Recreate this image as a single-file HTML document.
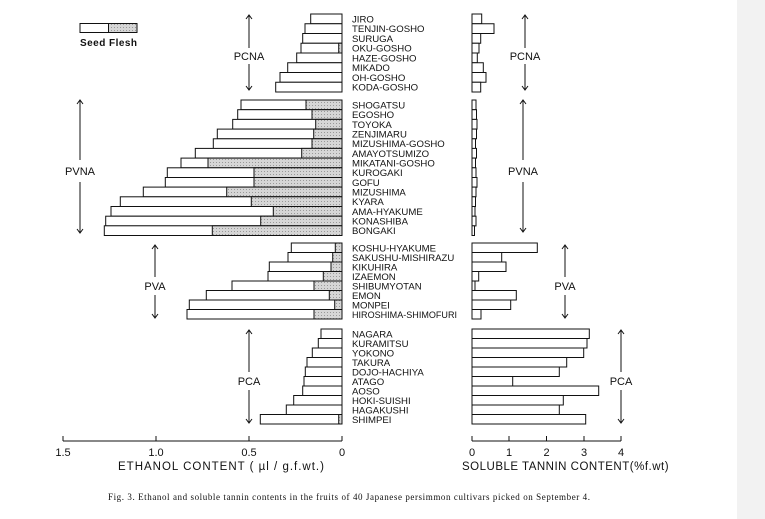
<!DOCTYPE html>
<html><head><meta charset="utf-8"><style>
html,body{margin:0;padding:0;background:#fff}
svg{display:block}
text{font-family:"Liberation Sans",sans-serif;fill:#111}
.l{font-size:9.6px}
.g{font-size:11px}
</style></head><body>
<svg width="765" height="519" viewBox="0 0 765 519" xmlns="http://www.w3.org/2000/svg">
<defs><pattern id="h" width="3" height="3" patternUnits="userSpaceOnUse"><rect width="3" height="3" fill="#d6d6d6"/><rect width="1" height="1" fill="#999"/></pattern></defs>
<rect x="737" y="0" width="28" height="519" fill="#f2f2f2"/>
<g stroke="#111" stroke-width="1" fill="#fff">
<rect x="80" y="23.5" width="57" height="9"/>
<rect x="108.5" y="23.5" width="28.5" height="9" fill="url(#h)"/>
<rect x="310.7" y="14" width="31.3" height="9.75"/>
<rect x="305" y="23.75" width="37" height="9.75"/>
<rect x="302.7" y="33.5" width="39.3" height="9.75"/>
<rect x="301" y="43.25" width="41" height="9.75"/><rect x="338.7" y="43.25" width="3.3" height="9.75" fill="url(#h)"/>
<rect x="296.7" y="53" width="45.3" height="9.75"/>
<rect x="287.7" y="62.75" width="54.3" height="9.75"/>
<rect x="280" y="72.5" width="62" height="9.75"/>
<rect x="275.7" y="82.25" width="66.3" height="9.75"/>
<rect x="241" y="100" width="101" height="9.7"/><rect x="306" y="100" width="36" height="9.7" fill="url(#h)"/>
<rect x="237.7" y="109.7" width="104.3" height="9.7"/><rect x="312" y="109.7" width="30" height="9.7" fill="url(#h)"/>
<rect x="232.7" y="119.4" width="109.3" height="9.7"/><rect x="315.7" y="119.4" width="26.3" height="9.7" fill="url(#h)"/>
<rect x="217.3" y="129.1" width="124.7" height="9.7"/><rect x="313.7" y="129.1" width="28.3" height="9.7" fill="url(#h)"/>
<rect x="213.3" y="138.8" width="128.7" height="9.7"/><rect x="312" y="138.8" width="30" height="9.7" fill="url(#h)"/>
<rect x="195.3" y="148.4" width="146.7" height="9.7"/><rect x="301.7" y="148.4" width="40.3" height="9.7" fill="url(#h)"/>
<rect x="181" y="158.1" width="161" height="9.7"/><rect x="208" y="158.1" width="134" height="9.7" fill="url(#h)"/>
<rect x="167.3" y="167.8" width="174.7" height="9.7"/><rect x="254" y="167.8" width="88" height="9.7" fill="url(#h)"/>
<rect x="165.3" y="177.5" width="176.7" height="9.7"/><rect x="254" y="177.5" width="88" height="9.7" fill="url(#h)"/>
<rect x="143.3" y="187.1" width="198.7" height="9.7"/><rect x="226.7" y="187.1" width="115.3" height="9.7" fill="url(#h)"/>
<rect x="120.3" y="196.8" width="221.7" height="9.7"/><rect x="251.3" y="196.8" width="90.7" height="9.7" fill="url(#h)"/>
<rect x="111" y="206.5" width="231" height="9.7"/><rect x="273.3" y="206.5" width="68.7" height="9.7" fill="url(#h)"/>
<rect x="105.7" y="216.2" width="236.3" height="9.7"/><rect x="260.7" y="216.2" width="81.3" height="9.7" fill="url(#h)"/>
<rect x="104.3" y="225.8" width="237.7" height="9.7"/><rect x="212.3" y="225.8" width="129.7" height="9.7" fill="url(#h)"/>
<rect x="291.3" y="243" width="50.7" height="9.5"/><rect x="335.3" y="243" width="6.7" height="9.5" fill="url(#h)"/>
<rect x="288" y="252.5" width="54" height="9.5"/><rect x="332.7" y="252.5" width="9.3" height="9.5" fill="url(#h)"/>
<rect x="269.3" y="262" width="72.7" height="9.5"/><rect x="331" y="262" width="11" height="9.5" fill="url(#h)"/>
<rect x="268" y="271.5" width="74" height="9.5"/><rect x="323.3" y="271.5" width="18.7" height="9.5" fill="url(#h)"/>
<rect x="232" y="281" width="110" height="9.5"/><rect x="314" y="281" width="28" height="9.5" fill="url(#h)"/>
<rect x="206.3" y="290.5" width="135.7" height="9.5"/><rect x="329.3" y="290.5" width="12.7" height="9.5" fill="url(#h)"/>
<rect x="189.3" y="300" width="152.7" height="9.5"/><rect x="334.7" y="300" width="7.3" height="9.5" fill="url(#h)"/>
<rect x="187" y="309.5" width="155" height="9.5"/><rect x="314" y="309.5" width="28" height="9.5" fill="url(#h)"/>
<rect x="321" y="329" width="21" height="9.5"/>
<rect x="318.3" y="338.5" width="23.7" height="9.5"/>
<rect x="312.3" y="348" width="29.7" height="9.5"/>
<rect x="307" y="357.5" width="35" height="9.5"/>
<rect x="305.3" y="367" width="36.7" height="9.5"/>
<rect x="304" y="376.5" width="38" height="9.5"/>
<rect x="302.7" y="386" width="39.3" height="9.5"/>
<rect x="293.7" y="395.5" width="48.3" height="9.5"/>
<rect x="286.3" y="405" width="55.7" height="9.5"/>
<rect x="260.3" y="414.5" width="81.7" height="9.5"/><rect x="338.7" y="414.5" width="3.3" height="9.5" fill="url(#h)"/>
<rect x="472" y="14" width="9.7" height="9.75"/>
<rect x="472" y="23.75" width="22" height="9.75"/>
<rect x="472" y="33.5" width="8.7" height="9.75"/>
<rect x="472" y="43.25" width="7" height="9.75"/>
<rect x="472" y="53" width="5.3" height="9.75"/>
<rect x="472" y="62.75" width="11.3" height="9.75"/>
<rect x="472" y="72.5" width="14" height="9.75"/>
<rect x="472" y="82.25" width="8.7" height="9.75"/>
<rect x="472" y="100" width="4" height="9.7"/>
<rect x="472" y="109.7" width="4.5" height="9.7"/>
<rect x="472" y="119.4" width="5" height="9.7"/>
<rect x="472" y="129.1" width="4.5" height="9.7"/>
<rect x="472" y="138.8" width="3.5" height="9.7"/>
<rect x="472" y="148.4" width="4.5" height="9.7"/>
<rect x="472" y="158.1" width="3.5" height="9.7"/>
<rect x="472" y="167.8" width="4" height="9.7"/>
<rect x="472" y="177.5" width="5" height="9.7"/>
<rect x="472" y="187.1" width="4" height="9.7"/>
<rect x="472" y="196.8" width="3.5" height="9.7"/>
<rect x="472" y="206.5" width="3" height="9.7"/>
<rect x="472" y="216.2" width="4" height="9.7"/>
<rect x="472" y="225.8" width="2.5" height="9.7"/>
<rect x="472" y="243" width="65.3" height="9.5"/>
<rect x="472" y="252.5" width="29.7" height="9.5"/>
<rect x="472" y="262" width="34" height="9.5"/>
<rect x="472" y="271.5" width="6.7" height="9.5"/>
<rect x="472" y="281" width="3" height="9.5"/>
<rect x="472" y="290.5" width="44.3" height="9.5"/>
<rect x="472" y="300" width="38.7" height="9.5"/>
<rect x="472" y="309.5" width="9" height="9.5"/>
<rect x="472" y="329" width="117.3" height="9.5"/>
<rect x="472" y="338.5" width="115" height="9.5"/>
<rect x="472" y="348" width="111.7" height="9.5"/>
<rect x="472" y="357.5" width="94.7" height="9.5"/>
<rect x="472" y="367" width="87.3" height="9.5"/>
<rect x="472" y="376.5" width="40.7" height="9.5"/>
<rect x="472" y="386" width="126.7" height="9.5"/>
<rect x="472" y="395.5" width="91.3" height="9.5"/>
<rect x="472" y="405" width="87.3" height="9.5"/>
<rect x="472" y="414.5" width="113.7" height="9.5"/>
</g>
<g stroke="#111" stroke-width="1" fill="none">
<path d="M63 441H342M63 436V441M156 436V441M249 436V441M342 436V441"/>
<path d="M472 441H621M472 436V441M509 436V441M546.5 436V441M584 436V441M621 436V441"/>
<path d="M249 15V48M249 64V90M246 19L249 15L252 19M246 86L249 90L252 86"/>
<path d="M80 100V160M80 182V233M77 104L80 100L83 104M77 229L80 233L83 229"/>
<path d="M155 245V277M155 295V318M152 249L155 245L158 249M152 314L155 318L158 314"/>
<path d="M249 330V372M249 390V423M246 334L249 330L252 334M246 419L249 423L252 419"/>
<path d="M525 15V48M525 64V90M522 19L525 15L528 19M522 86L525 90L528 86"/>
<path d="M523 100V160M523 182V232M520 104L523 100L526 104M520 228L523 232L526 228"/>
<path d="M565 245V277M565 295V318M562 249L565 245L568 249M562 314L565 318L568 314"/>
<path d="M621 330V372M621 390V423M618 334L621 330L624 334M618 419L621 423L624 419"/>
</g>
<text x="80" y="46" textLength="57" style="font-size:10px;font-weight:bold">Seed Flesh</text>
<g class="g">
<text x="249" y="60" text-anchor="middle">PCNA</text>
<text x="80" y="175" text-anchor="middle">PVNA</text>
<text x="155" y="290" text-anchor="middle">PVA</text>
<text x="249" y="385" text-anchor="middle">PCA</text>
<text x="525" y="60" text-anchor="middle">PCNA</text>
<text x="523" y="175" text-anchor="middle">PVNA</text>
<text x="565" y="290" text-anchor="middle">PVA</text>
<text x="621" y="385" text-anchor="middle">PCA</text>
</g>
<g class="l">
<text x="352" y="22.5">JIRO</text>
<text x="352" y="32.2">TENJIN-GOSHO</text>
<text x="352" y="42">SURUGA</text>
<text x="352" y="51.7">OKU-GOSHO</text>
<text x="352" y="61.5">HAZE-GOSHO</text>
<text x="352" y="71.2">MIKADO</text>
<text x="352" y="81">OH-GOSHO</text>
<text x="352" y="90.7">KODA-GOSHO</text>
<text x="352" y="108.4">SHOGATSU</text>
<text x="352" y="118.1">EGOSHO</text>
<text x="352" y="127.8">TOYOKA</text>
<text x="352" y="137.5">ZENJIMARU</text>
<text x="352" y="147.2">MIZUSHIMA-GOSHO</text>
<text x="352" y="156.8">AMAYOTSUMIZO</text>
<text x="352" y="166.5">MIKATANI-GOSHO</text>
<text x="352" y="176.2">KUROGAKI</text>
<text x="352" y="185.9">GOFU</text>
<text x="352" y="195.5">MIZUSHIMA</text>
<text x="352" y="205.2">KYARA</text>
<text x="352" y="214.9">AMA-HYAKUME</text>
<text x="352" y="224.6">KONASHIBA</text>
<text x="352" y="234.2">BONGAKI</text>
<text x="352" y="251.5">KOSHU-HYAKUME</text>
<text x="352" y="261">SAKUSHU-MISHIRAZU</text>
<text x="352" y="270.5">KIKUHIRA</text>
<text x="352" y="280">IZAEMON</text>
<text x="352" y="289.5">SHIBUMYOTAN</text>
<text x="352" y="299">EMON</text>
<text x="352" y="308.5">MONPEI</text>
<text x="352" y="318" textLength="105" lengthAdjust="spacingAndGlyphs">HIROSHIMA-SHIMOFURI</text>
<text x="352" y="337.5">NAGARA</text>
<text x="352" y="347">KURAMITSU</text>
<text x="352" y="356.5">YOKONO</text>
<text x="352" y="366">TAKURA</text>
<text x="352" y="375.5">DOJO-HACHIYA</text>
<text x="352" y="385">ATAGO</text>
<text x="352" y="394.5">AOSO</text>
<text x="352" y="404">HOKI-SUISHI</text>
<text x="352" y="413.5">HAGAKUSHI</text>
<text x="352" y="423">SHIMPEI</text>
</g>
<g style="font-size:11px" text-anchor="middle">
<text x="63" y="456">1.5</text><text x="156" y="456">1.0</text><text x="249" y="456">0.5</text><text x="342" y="456">0</text>
<text x="472" y="456">0</text><text x="509" y="456">1</text><text x="546.5" y="456">2</text><text x="584" y="456">3</text><text x="621" y="456">4</text>
</g>
<text x="118" y="470" style="font-size:11.5px;letter-spacing:1px">ETHANOL  CONTENT ( µl / g.f.wt.)</text>
<text x="462" y="470" style="font-size:11.5px;letter-spacing:0.5px">SOLUBLE  TANNIN CONTENT(%f.wt)</text>
<text x="108" y="500" textLength="482" lengthAdjust="spacing" style="font-family:'Liberation Serif',serif;font-size:9px">Fig. 3.    Ethanol and soluble tannin contents in the fruits of 40 Japanese persimmon cultivars picked on September 4.</text>
</svg>
</body></html>
